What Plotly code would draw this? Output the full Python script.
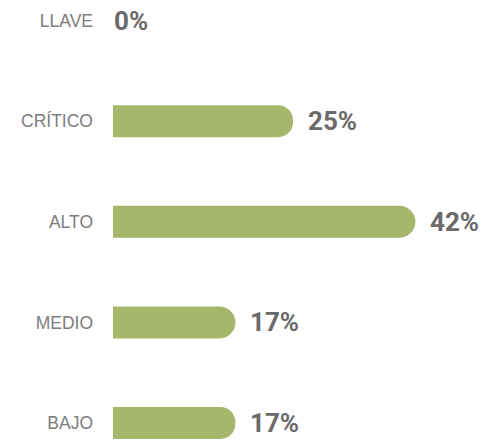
import plotly.graph_objects as go

# Risk levels and their share of cases (%)
categories = ["LLAVE", "CRÍTICO", "ALTO", "MEDIO", "BAJO"]
shares = [0, 25, 42, 17, 17]
value_labels = ["0%", "25%", "42%", "17%", "17%"]

BAR_COLOR = "#a6b76b"
LABEL_COLOR = "#7d7d7d"
VALUE_COLOR = "#6a6a6a"

fig = go.Figure(
    go.Bar(
        x=shares,
        y=categories,
        orientation="h",
        marker=dict(color=BAR_COLOR, line=dict(width=0)),
        hoverinfo="skip",
    )
)

# Value labels sit just past the rounded end of each bar
for cat, val, lab in zip(categories, shares, value_labels):
    fig.add_annotation(
        x=val,
        y=cat,
        xref="x",
        yref="y",
        text=lab,
        showarrow=False,
        xanchor="left",
        yanchor="middle",
        xshift=13 if val > 0 else -1,
        yshift=0,
        font=dict(family="Roboto", size=26, color=VALUE_COLOR, weight="bold"),
    )

fig.update_layout(
    width=482,
    height=440,
    margin=dict(l=113, r=0, t=0, b=0),
    paper_bgcolor="white",
    plot_bgcolor="white",
    bargap=0.682,
    barcornerradius=16,
    showlegend=False,
    xaxis=dict(
        range=[0, 369 / 7.2],
        visible=False,
        fixedrange=True,
    ),
    yaxis=dict(
        type="category",
        categoryorder="array",
        categoryarray=categories,
        range=[4.169, -0.204],
        showgrid=False,
        zeroline=False,
        showline=False,
        ticks="",
        ticklabelstandoff=19,
        tickfont=dict(family="Liberation Sans", size=17.5, color=LABEL_COLOR),
        fixedrange=True,
    ),
)

fig.write_html("out.html")
